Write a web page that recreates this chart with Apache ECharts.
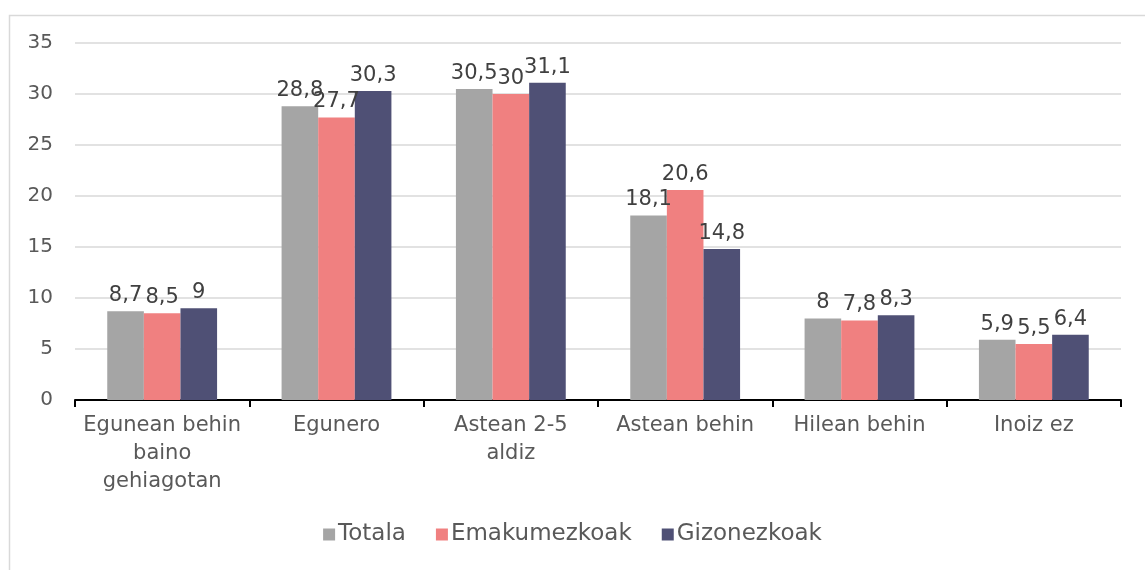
<!DOCTYPE html>
<html>
<head>
<meta charset="utf-8">
<script src="https://cdn.jsdelivr.net/npm/echarts@6/dist/echarts.min.js"></script>
<style>
  html, body { margin: 0; padding: 0; background: #fff; }
  #chart { width: 1145px; height: 570px; }
</style>
</head>
<body>
<div id="chart"></div>
<script>
// maiztasuna
var categories = ['Egunean behin\nbaino\ngehiagotan', 'Egunero', 'Astean 2-5\naldiz', 'Astean behin', 'Hilean behin', 'Inoiz ez']
var totala = [8.7, 28.8, 30.5, 18.1, 8, 5.9]
var emakumezkoak = [8.5, 27.7, 30, 20.6, 7.8, 5.5]
var gizonezkoak = [9, 30.3, 31.1, 14.8, 8.3, 6.4]

var font = '"DejaVu Sans", sans-serif'

const MyEcharts = echarts.init(document.getElementById('chart'))

const labelStyle = {
    show: true,
    position: 'top',
    distance: 5,
    color: '#404040',
    fontSize: 21,
    fontFamily: font,
    formatter: p => String(p.value).replace('.', ',')
}

const option = {
    animation: false,
    textStyle: { fontFamily: font },
    graphic: [{
        type: 'rect',
        left: 7, top: 13,
        shape: { width: 1160, height: 570 },
        style: { fill: 'none', stroke: '#d9d9d9', lineWidth: 1.5 },
        silent: true
    }],
    legend: {
        bottom: 19,
        left: 'center',
        itemWidth: 12,
        itemHeight: 12,
        itemGap: 30,
        icon: 'rect',
        textStyle: { fontSize: 23, color: '#595959', fontFamily: font, padding: [0, 0, 0, -2] },
        data: ['Totala', 'Emakumezkoak', 'Gizonezkoak']
    },
    grid: {
        top: 43,
        left: 75,
        right: 24,
        bottom: 170
    },
    xAxis: {
        type: 'category',
        data: categories,
        axisLine: { lineStyle: { color: '#000', width: 2 } },
        axisTick: { show: true, interval: 0, length: 7, lineStyle: { color: '#000', width: 2 } },
        axisLabel: {
            interval: 0,
            margin: 12,
            fontSize: 21,
            lineHeight: 28,
            color: '#595959',
            fontFamily: font
        }
    },
    yAxis: {
        type: 'value',
        min: 0,
        max: 35,
        interval: 5,
        axisLine: { show: false },
        axisTick: { show: false },
        splitLine: { lineStyle: { color: '#d9d9d9', width: 1.5 } },
        axisLabel: { fontSize: 20, color: '#595959', margin: 22, fontFamily: font }
    },
    series: [{
        name: 'Totala',
        type: 'bar',
        data: totala,
        color: '#a5a5a5',
        barGap: '0%',
        barCategoryGap: '37%',
        label: labelStyle
    }, {
        name: 'Emakumezkoak',
        type: 'bar',
        data: emakumezkoak,
        color: '#f08080',
        barGap: '0%',
        barCategoryGap: '37%',
        label: labelStyle
    }, {
        name: 'Gizonezkoak',
        type: 'bar',
        data: gizonezkoak,
        color: '#4f5075',
        barGap: '0%',
        barCategoryGap: '37%',
        label: labelStyle
    }]
}
MyEcharts.setOption(option)
</script>
</body>
</html>
